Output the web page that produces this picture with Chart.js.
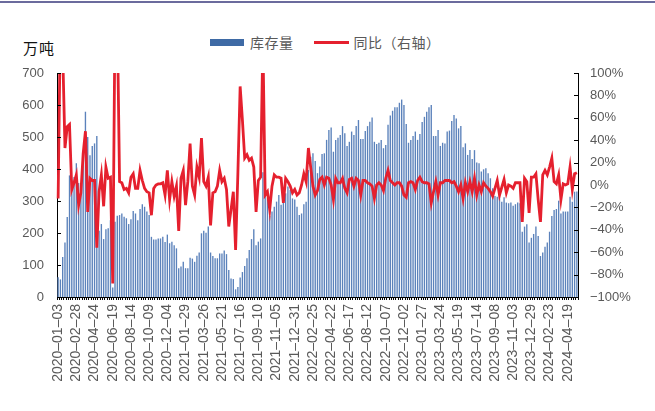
<!DOCTYPE html>
<html>
<head>
<meta charset="utf-8">
<script src="https://cdn.jsdelivr.net/npm/chart.js@4.4.1/dist/chart.umd.min.js"></script>
<style>
  html, body { margin: 0; padding: 0; background: #fff; }
  #wrap { position: relative; width: 655px; height: 411px; overflow: hidden; }
  #topline { position: absolute; left: 0; top: 1px; width: 655px; height: 2px; background: #6b6b9d; }
  #unit { position: absolute; left: 23px; top: 37px; font: 15px "Noto Sans CJK SC", sans-serif; letter-spacing: 1px; color: #111; }
  #legend { position: absolute; left: 210px; top: 32px; font: 14px "Noto Sans CJK SC", sans-serif; letter-spacing: 0.5px; color: #595959; display: flex; align-items: center; }
  #legend .box { width: 34px; height: 7px; background: #3e6aa5; margin-right: 6px; }
  #legend .line { width: 35px; height: 3px; background: #e5202e; margin: 0 5px 0 20px; }
  canvas { position: absolute; left: 0; top: 0; }
</style>
</head>
<body>
<div id="wrap">
  <div id="topline"></div>
  <div id="unit">万吨</div>
  <div id="legend"><span class="box"></span><span>库存量</span><span class="line"></span><span>同比（右轴）</span></div>
  <canvas id="stockChart" width="655" height="411"></canvas>
</div>
<script>
const seriesNames = ['库存量', '同比（右轴）'];
const firstWeek = '2020-01-03';

// 库存量, 万吨, weekly
const stockValues = [
  62, 55, 125, 170, 250, 380, 365, 375, 418, 356,
  350, 430, 579, 500, 443, 472, 480, 503, 207, 228,
  181, 212, 215, 240, 30, 235, 254, 256, 261, 251,
  246, 228, 243, 269, 261, 240, 275, 290, 282, 267,
  256, 188, 180, 180, 183, 183, 188, 172, 195, 168,
  173, 162, 152, 90, 95, 110, 90, 90, 123, 120,
  110, 129, 139, 199, 207, 201, 220, 139, 128, 121,
  121, 136, 136, 145, 134, 84, 58, 56, 24, 31,
  61, 78, 97, 121, 147, 181, 212, 162, 173, 183,
  390, 324, 308, 253, 267, 282, 298, 319, 288, 313,
  324, 345, 334, 308, 305, 282, 256, 261, 290, 298,
  397, 438, 449, 425, 387, 408, 447, 449, 491, 522,
  530, 454, 491, 498, 506, 534, 512, 472, 485, 517,
  506, 534, 553, 494, 494, 519, 534, 548, 561, 485,
  478, 482, 491, 465, 475, 538, 567, 582, 593, 593,
  607, 617, 600, 541, 482, 491, 503, 517, 491, 509,
  547, 563, 579, 593, 600, 503, 503, 522, 472, 482,
  480, 517, 520, 550, 569, 558, 527, 534, 468, 480,
  444, 459, 431, 459, 420, 418, 392, 399, 402, 387,
  371, 340, 316, 313, 326, 298, 312, 295, 293, 295,
  285, 290, 295, 293, 204, 220, 227, 170, 185, 197,
  220, 191, 128, 139, 157, 170, 204, 253, 272, 275,
  301, 261, 267, 267, 267, 313, 298, 329, 330
];

// 同比, %
const yoyValues = [
  -12, 150, 120, 33, 52, 54, -4, 2, 9, -18,
  -7, 28, 48, -24, 6, 4, 4, -56, -6, 9,
  -19, 16, 6, 7, -88, 150, 150, 3, 2, -4,
  -3, -7, 7, 10, -3, -3, 13, 4, -3, -6,
  -7, -27, -3, 0, 1, 1, 2, -9, 13, -13,
  3, -10, -1, -41, 6, 13, -18, 3, 37, -1,
  -9, 16, 7, 42, 3, -1, 7, -36, -7, -6,
  -1, 13, 3, 6, -4, -37, -22, -6, -58, 10,
  88, 58, 24, 27, 22, 24, 16, -24, 4, 7,
  130, -9, -6, -22, -1, 9, 7, 7, 6, -16,
  6, 3, -1, -7, -4, -9, -7, 0, 10, 3,
  33, 16, -1, -9, -5, 5, 7, 0, 7, 6,
  0, -13, 6, 2, 2, 6, -3, -7, 5, 6,
  -1, 6, 4, -9, 4, 4, 2, 1, -1, -12,
  0, 2, 0, -5, 6, 13, 4, 2, 0, 2,
  2, -1, -9, -11, 2, 3, 2, -4, 4, 7,
  3, 2, 2, 1, -16, -6, 3, -9, 2, 2,
  4, 4, 4, 2, 3, -1, -6, 0, -12, 2,
  -6, 3, -6, 6, -9, 0, -6, 2, -1, -3,
  -6, -10, -3, 4, -9, -2, 5, -7, 0, -1,
  -3, 2, 2, 2, -33, 6, 3, -25, 7, 7,
  10, -13, -33, 9, 13, 9, 16, 24, 3, 1,
  9, -13, 1, 0, 1, 16, -4, 10, 11
];

const leftTicks = [0, 100, 200, 300, 400, 500, 600, 700];
const rightTicks = [-100, -80, -60, -40, -20, 0, 20, 40, 60, 80, 100];

const weekLabels = stockValues.map((_, i) => {
  const d = new Date(Date.parse(firstWeek) + i * 7 * 86400000);
  return d.toISOString().slice(0, 10);
});

// tick marks drawn inside the plot, like the source chart
const innerTicks = {
  id: 'innerTicks',
  afterDatasetsDraw(chart) {
    const { ctx, chartArea, scales } = chart;
    ctx.save();
    ctx.strokeStyle = '#000';
    ctx.lineWidth = 1;
    leftTicks.forEach((v) => {
      const py = Math.round(scales.y.getPixelForValue(v)) + 0.5;
      ctx.beginPath();
      ctx.moveTo(chartArea.left, py);
      ctx.lineTo(chartArea.left + 4, py);
      ctx.stroke();
    });
    rightTicks.forEach((v) => {
      const py = Math.round(scales.y1.getPixelForValue(v)) + 0.5;
      ctx.beginPath();
      ctx.moveTo(chartArea.right, py);
      ctx.lineTo(chartArea.right - 4, py);
      ctx.stroke();
    });
    ctx.restore();
  }
};

const tickFont = { family: 'Liberation Sans, Arial, sans-serif', size: 13 };

new Chart(document.getElementById('stockChart'), {
  type: 'bar',
  data: {
    labels: weekLabels,
    datasets: [{
      type: 'line',
      label: seriesNames[1],
      data: yoyValues,
      yAxisID: 'y1',
      borderColor: '#e5202e',
      borderWidth: 2.8,
      pointRadius: 0,
      tension: 0,
      order: 0
    }, {
      label: seriesNames[0],
      data: stockValues,
      yAxisID: 'y',
      backgroundColor: '#5b82bb',
      barPercentage: 1,
      categoryPercentage: 0.6,
      order: 1
    }]
  },
  options: {
    responsive: false,
    animation: false,
    layout: { padding: { top: 73, left: 0, right: 0, bottom: 0 } },
    plugins: { legend: { display: false }, tooltip: { enabled: false } },
    scales: {
      x: {
        afterFit: (s) => { s.height = 114; },
        grid: { drawOnChartArea: false, drawTicks: true, tickLength: 3, color: '#000' },
        border: { color: '#000' },
        ticks: {
          autoSkip: false,
          maxRotation: 90,
          minRotation: 90,
          padding: 4,
          color: '#595959',
          font: { family: 'Liberation Sans, Arial, sans-serif', size: 14 },
          callback: (val, i) => (i % 8 === 0 ? weekLabels[i].replace(/-/g, '–') : '')
        }
      },
      y: {
        position: 'left',
        min: 0,
        max: 700,
        afterFit: (s) => { s.width = 57; },
        afterBuildTicks: (s) => { s.ticks = leftTicks.map((v) => ({ value: v })); },
        grid: { display: false },
        border: { color: '#000' },
        ticks: { color: '#595959', font: tickFont, padding: 5 }
      },
      y1: {
        position: 'right',
        min: -100,
        max: 100,
        afterFit: (s) => { s.width = 77; },
        afterBuildTicks: (s) => { s.ticks = rightTicks.map((v) => ({ value: v })); },
        grid: { display: false },
        border: { color: '#000' },
        ticks: { color: '#595959', font: tickFont, padding: 4, callback: (v) => (v < 0 ? '−' + (-v) : v) + '%' }
      }
    }
  },
  plugins: [innerTicks]
});
</script>
</body>
</html>
